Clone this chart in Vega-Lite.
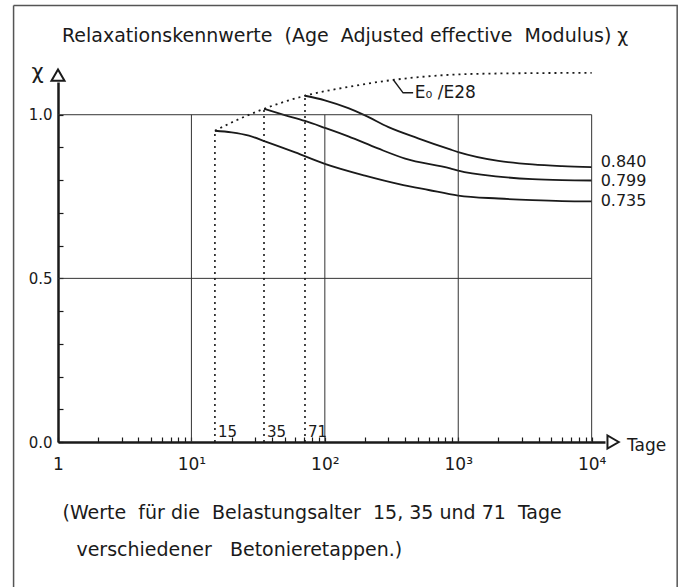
{
  "$schema": "https://vega.github.io/schema/vega-lite/v6.json",
  "width": 547,
  "height": 360,
  "autosize": {"type": "none"},
  "padding": {"left": 58, "top": 82, "right": 80, "bottom": 145},
  "background": "white",
  "config": {"view": {"stroke": null}, "font": "DejaVu Sans"},
  "datasets": {
    "curves": [
      {"age": 15, "t": 15, "chi": 0.951}, {"age": 15, "t": 20, "chi": 0.946}, {"age": 15, "t": 27, "chi": 0.936}, {"age": 15, "t": 36, "chi": 0.918}, {"age": 15, "t": 60, "chi": 0.885}, {"age": 15, "t": 100, "chi": 0.850}, {"age": 15, "t": 200, "chi": 0.814}, {"age": 15, "t": 360, "chi": 0.788}, {"age": 15, "t": 600, "chi": 0.770}, {"age": 15, "t": 1000, "chi": 0.753}, {"age": 15, "t": 2000, "chi": 0.744}, {"age": 15, "t": 3600, "chi": 0.739}, {"age": 15, "t": 6000, "chi": 0.736}, {"age": 15, "t": 10000, "chi": 0.735},
      {"age": 35, "t": 35, "chi": 1.018}, {"age": 35, "t": 50, "chi": 0.999}, {"age": 35, "t": 71, "chi": 0.981}, {"age": 35, "t": 100, "chi": 0.960}, {"age": 35, "t": 150, "chi": 0.934}, {"age": 35, "t": 250, "chi": 0.897}, {"age": 35, "t": 400, "chi": 0.866}, {"age": 35, "t": 870, "chi": 0.836}, {"age": 35, "t": 1000, "chi": 0.829}, {"age": 35, "t": 2000, "chi": 0.811}, {"age": 35, "t": 3600, "chi": 0.803}, {"age": 35, "t": 6000, "chi": 0.800}, {"age": 35, "t": 10000, "chi": 0.799},
      {"age": 71, "t": 71, "chi": 1.058}, {"age": 71, "t": 100, "chi": 1.044}, {"age": 71, "t": 150, "chi": 1.020}, {"age": 71, "t": 200, "chi": 0.998}, {"age": 71, "t": 300, "chi": 0.962}, {"age": 71, "t": 500, "chi": 0.928}, {"age": 71, "t": 870, "chi": 0.894}, {"age": 71, "t": 1000, "chi": 0.886}, {"age": 71, "t": 2000, "chi": 0.859}, {"age": 71, "t": 3600, "chi": 0.848}, {"age": 71, "t": 6000, "chi": 0.843}, {"age": 71, "t": 10000, "chi": 0.840}
    ],
    "eo": [
      {"t": 15, "chi": 0.951}, {"t": 22, "chi": 0.984}, {"t": 35, "chi": 1.018}, {"t": 71, "chi": 1.058}, {"t": 150, "chi": 1.085}, {"t": 320, "chi": 1.106}, {"t": 870, "chi": 1.122}, {"t": 2000, "chi": 1.126}, {"t": 10000, "chi": 1.128}
    ],
    "loads": [
      {"t": 15, "chi": 0.951, "base": 0, "label": "15"}, {"t": 35, "chi": 1.018, "base": 0, "label": "35"}, {"t": 71, "chi": 1.058, "base": 0, "label": "71"}
    ],
    "ends": [
      {"t": 10000, "chi": 0.840, "label": "0.840"}, {"t": 10000, "chi": 0.799, "label": "0.799"}, {"t": 10000, "chi": 0.735, "label": "0.735"}
    ],
    "vgrid": [{"t": 10, "lo": 0, "hi": 1}, {"t": 100, "lo": 0, "hi": 1}, {"t": 1000, "lo": 0, "hi": 1}, {"t": 10000, "lo": 0, "hi": 1}],
    "hgrid": [{"chi": 0.5, "lo": 1, "hi": 10000}, {"chi": 1.0, "lo": 1, "hi": 10000}],
    "leader": [{"o": 1, "t": 326, "chi": 1.107}, {"o": 2, "t": 386, "chi": 1.067}, {"o": 3, "t": 459, "chi": 1.067}],
    "frame": [{"o": 1, "t": 0.4645, "chi": 1.334}, {"o": 2, "t": 43750, "chi": 1.334}, {"o": 3, "t": 43750, "chi": -0.467}, {"o": 4, "t": 0.4645, "chi": -0.467}, {"o": 5, "t": 0.4645, "chi": 1.334}],
    "one": [{}]
  },
  "layer": [
    {
      "data": {"name": "curves"},
      "mark": {"type": "line", "color": "#1a1a1a", "strokeWidth": 1.8, "interpolate": "monotone"},
      "encoding": {
        "x": {
          "field": "t", "type": "quantitative", "title": ["(Werte\u00a0 für die\u00a0 Belastungsalter\u00a0 15, 35 und 71\u00a0 Tage", "\u2800verschiedener\u00a0\u00a0 Betonieretappen.)"],
          "scale": {"type": "log", "domain": [1, 12589], "nice": false},
          "axis": {
            "values": [1, 2, 3, 4, 5, 6, 7, 8, 9, 10, 20, 30, 40, 50, 60, 70, 80, 90, 100, 200, 300, 400, 500, 600, 700, 800, 900, 1000, 2000, 3000, 4000, 5000, 6000, 7000, 8000, 9000, 10000],
            "labelExpr": "datum.value == 1 ? '1' : datum.value == 10 ? '10¹' : datum.value == 100 ? '10²' : datum.value == 1000 ? '10³' : datum.value == 10000 ? '10⁴' : ''",
            "labelOverlap": false, "labelFlush": false, "labelBound": false,
            "labelFontSize": 17, "labelColor": "#1a1a1a", "labelPadding": 19, "labelFont": "DejaVu Sans",
            "tickSize": -5, "tickColor": "#1a1a1a", "tickWidth": 1.2,
            "domainColor": "#1a1a1a", "domainWidth": 2.5, "grid": false,
            "titleAnchor": "start", "titleAlign": "left", "titleX": 4, "titleY": 76, "titleBaseline": "alphabetic",
            "titleFontSize": 19, "titleFontWeight": "normal", "titleLineHeight": 37, "titleColor": "#1a1a1a", "titleFont": "DejaVu Sans"
          }
        },
        "y": {
          "field": "chi", "type": "quantitative", "title": "χ",
          "scale": {"domain": [0, 1.1], "nice": false, "zero": false},
          "axis": {
            "values": [0, 0.1, 0.2, 0.3, 0.4, 0.5, 0.6, 0.7, 0.8, 0.9, 1.0],
            "tickCount": 11,
            "labelExpr": "datum.value == 0 ? '0.0' : abs(datum.value - 0.5) < 0.001 ? '0.5' : abs(datum.value - 1) < 0.001 ? '1.0' : ''",
            "labelOverlap": false, "labelBound": false, "labelFlush": false,
            "labelFontSize": 15, "labelColor": "#1a1a1a", "labelPadding": 11, "labelFont": "DejaVu Sans",
            "tickSize": -5, "tickColor": "#1a1a1a", "tickWidth": 1.2,
            "domainColor": "#1a1a1a", "domainWidth": 2.5, "grid": false,
            "titleAngle": 0, "titleX": -21, "titleY": -10, "titleAlign": "center", "titleBaseline": "middle",
            "titleFontSize": 21, "titleFontWeight": "normal", "titleColor": "#1a1a1a", "titleFont": "DejaVu Sans"
          }
        },
        "detail": {"field": "age", "type": "nominal"}
      }
    },
    {
      "data": {"name": "frame"},
      "mark": {"type": "line", "color": "#555555", "strokeWidth": 1.5},
      "encoding": {
        "x": {"field": "t", "type": "quantitative"},
        "y": {"field": "chi", "type": "quantitative"},
        "order": {"field": "o", "type": "quantitative"}
      }
    },
    {
      "data": {"name": "vgrid"},
      "mark": {"type": "rule", "color": "#333333", "strokeWidth": 1},
      "encoding": {
        "x": {"field": "t", "type": "quantitative"},
        "y": {"field": "lo", "type": "quantitative"},
        "y2": {"field": "hi"}
      }
    },
    {
      "data": {"name": "hgrid"},
      "mark": {"type": "rule", "color": "#333333", "strokeWidth": 1},
      "encoding": {
        "y": {"field": "chi", "type": "quantitative"},
        "x": {"field": "lo", "type": "quantitative"},
        "x2": {"field": "hi"}
      }
    },
    {
      "data": {"name": "loads"},
      "mark": {"type": "rule", "color": "#1a1a1a", "strokeWidth": 1.6, "strokeDash": [2, 4]},
      "encoding": {
        "x": {"field": "t", "type": "quantitative"},
        "y": {"field": "base", "type": "quantitative"},
        "y2": {"field": "chi"}
      }
    },
    {
      "data": {"name": "loads"},
      "mark": {"type": "text", "align": "left", "baseline": "middle", "dx": 3, "dy": -10, "fontSize": 15, "color": "#1a1a1a", "font": "DejaVu Sans"},
      "encoding": {
        "x": {"field": "t", "type": "quantitative"},
        "y": {"field": "base", "type": "quantitative"},
        "text": {"field": "label", "type": "nominal"}
      }
    },
    {
      "data": {"name": "eo"},
      "mark": {"type": "line", "color": "#1a1a1a", "strokeWidth": 1.8, "strokeDash": [2, 4], "interpolate": "monotone"},
      "encoding": {
        "x": {"field": "t", "type": "quantitative"},
        "y": {"field": "chi", "type": "quantitative"}
      }
    },
    {
      "data": {"name": "ends"},
      "transform": [{"filter": "datum.label != '0.840'"}],
      "mark": {"type": "text", "align": "left", "baseline": "middle", "dx": 9, "fontSize": 16, "color": "#1a1a1a", "font": "DejaVu Sans"},
      "encoding": {
        "x": {"field": "t", "type": "quantitative"},
        "y": {"field": "chi", "type": "quantitative"},
        "text": {"field": "label", "type": "nominal"}
      }
    },
    {
      "data": {"name": "ends"},
      "transform": [{"filter": "datum.label == '0.840'"}],
      "mark": {"type": "text", "align": "left", "baseline": "middle", "dx": 9, "dy": -5, "fontSize": 16, "color": "#1a1a1a", "font": "DejaVu Sans"},
      "encoding": {
        "x": {"field": "t", "type": "quantitative"},
        "y": {"field": "chi", "type": "quantitative"},
        "text": {"field": "label", "type": "nominal"}
      }
    },
    {
      "data": {"name": "leader"},
      "mark": {"type": "line", "color": "#1a1a1a", "strokeWidth": 1.4},
      "encoding": {
        "x": {"field": "t", "type": "quantitative"},
        "y": {"field": "chi", "type": "quantitative"},
        "order": {"field": "o", "type": "quantitative"}
      }
    },
    {
      "data": {"name": "one"},
      "mark": {"type": "text", "align": "left", "baseline": "middle", "fontSize": 17, "color": "#1a1a1a", "font": "DejaVu Sans", "text": "E₀ /E28"},
      "encoding": {
        "x": {"datum": 473, "type": "quantitative"},
        "y": {"datum": 1.067, "type": "quantitative"}
      }
    },
    {
      "data": {"name": "one"},
      "mark": {"type": "text", "align": "left", "baseline": "middle", "dx": 22, "dy": 4, "fontSize": 17, "color": "#1a1a1a", "font": "DejaVu Sans", "text": "Tage"},
      "encoding": {
        "x": {"datum": 12589, "type": "quantitative"},
        "y": {"datum": 0, "type": "quantitative"}
      }
    },
    {
      "data": {"name": "one"},
      "mark": {"type": "text", "align": "left", "baseline": "alphabetic", "dx": 4, "fontSize": 19, "color": "#1a1a1a", "font": "DejaVu Sans", "text": "Relaxationskennwerte\u00a0 (Age\u00a0 Adjusted effective\u00a0 Modulus) χ"},
      "encoding": {
        "x": {"datum": 1, "type": "quantitative"},
        "y": {"datum": 1.221, "type": "quantitative"}
      }
    },
    {
      "data": {"name": "one"},
      "mark": {"type": "point", "shape": "triangle-right", "size": 170, "filled": false, "color": "#1a1a1a", "strokeWidth": 2, "opacity": 1},
      "encoding": {
        "x": {"datum": 14480, "type": "quantitative"},
        "y": {"datum": 0, "type": "quantitative"}
      }
    },
    {
      "data": {"name": "one"},
      "mark": {"type": "point", "shape": "triangle-up", "size": 170, "filled": false, "color": "#1a1a1a", "strokeWidth": 2, "opacity": 1},
      "encoding": {
        "x": {"datum": 1, "type": "quantitative"},
        "y": {"datum": 1.121, "type": "quantitative"}
      }
    }
  ]
}
